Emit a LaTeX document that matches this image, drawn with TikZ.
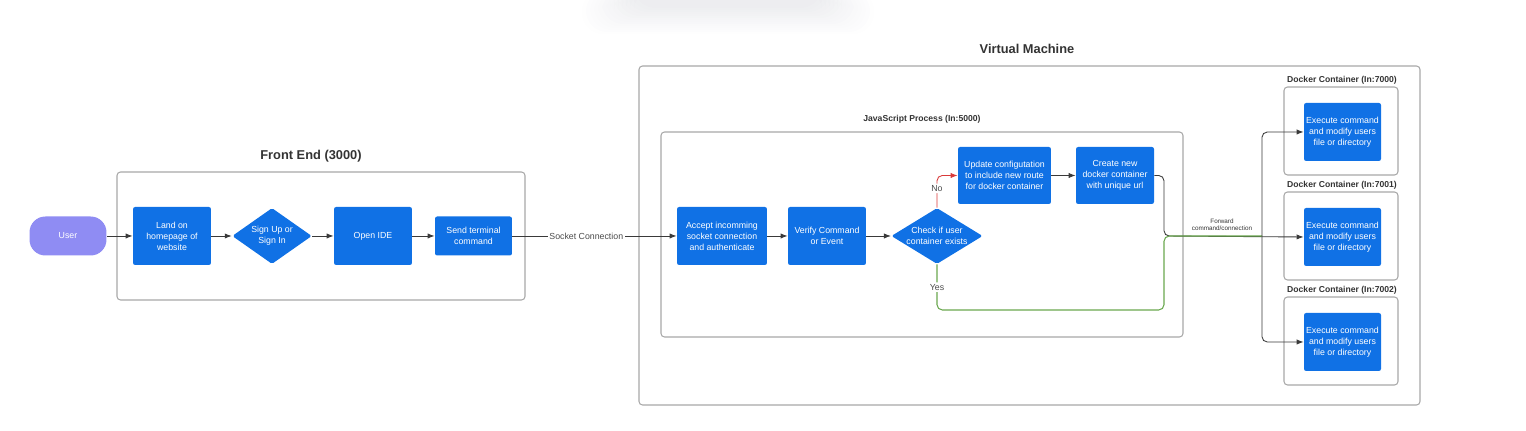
\documentclass[tikz,border=0pt]{standalone}
\usepackage{fontspec}
\setmainfont{Liberation Sans}
\usetikzlibrary{shapes.geometric,arrows.meta}

\definecolor{blu}{HTML}{1071E5}
\definecolor{usr}{HTML}{8F8CF3}
\definecolor{grn}{HTML}{6AA84F}
\definecolor{rd}{HTML}{D93A3A}
\definecolor{frm}{HTML}{A8A8A8}
\definecolor{lin}{HTML}{3A3A3A}
\definecolor{shd}{HTML}{5A5F78}

\tikzset{
  blk/.style={fill=blu, rounded corners=1.2pt, text=white, align=center, inner sep=0pt,
    font=\fontsize{5}{6.2}\selectfont},
  dia/.style={blk, diamond, rounded corners=1pt},
  frame/.style={draw=frm, line width=0.6pt, rounded corners=2pt},
  ttl/.style={font=\bfseries\fontsize{7.3}{8}\selectfont, text=black!80},
  sttl/.style={font=\bfseries\fontsize{4.9}{6}\selectfont, text=black!80},
  arr/.style={draw=lin, line width=0.5pt, -{Latex[length=4pt,width=3pt]}},
  lbl/.style={font=\fontsize{5}{6}\selectfont, text=black!70, fill=white, inner sep=1pt},
}

\begin{document}
\begin{tikzpicture}[x=0.02cm,y=-0.02cm]
\useasboundingbox (0,0) rectangle (1526,431);
% shadow of the toolbar at the top
\foreach \k in {0,...,13}
  \fill[shd, opacity=0.006, rounded corners=12pt] ({582+\k*4},-10) rectangle ({874-\k*4},{34-\k*2});

% frames
\draw[frame] (117,172) rectangle (525,300);
\node[ttl] (FE) at (311,156) {Front End (3000)};
\draw[frame] (639,66) rectangle (1420,405);
\node[ttl] (VM) at (1027,49) {Virtual Machine};
\draw[frame] (661,132) rectangle (1183,337);
\node[sttl] (JS) at (922,119) {JavaScript Process (In:5000)};

% front end
\node[blk, fill=usr, minimum width=1.54cm, minimum height=0.78cm, rounded corners=9pt] (US) at (68,236) {User};
\node[blk, minimum width=1.56cm, minimum height=1.16cm] (LA) at (172,236) {Land on\\homepage of\\website};
\node[dia, aspect=2, minimum width=1.48cm, minimum height=1.12cm] (SI) at (272,236) {Sign Up or\\Sign In};
\node[blk, minimum width=1.56cm, minimum height=1.16cm] (OP) at (373,236) {Open IDE};
\node[blk, minimum width=1.54cm, minimum height=0.78cm] (SE) at (473.5,236) {Send terminal\\command};
\draw[arr] (US)--(LA);
\draw[arr] (LA)--(SI);
\draw[arr] (SI)--(OP);
\draw[arr] (OP)--(SE);

% javascript process
\node[blk, minimum width=1.8cm, minimum height=1.16cm] (AC) at (722,236) {Accept incomming\\socket connection\\and authenticate};
\node[blk, minimum width=1.56cm, minimum height=1.16cm] (VE) at (827,236) {Verify Command\\or Event};
\node[dia, aspect=1.75, minimum width=1.76cm, minimum height=1.12cm] (CH) at (937,236) {Check if user\\container exists};
\node[blk, minimum width=1.86cm, minimum height=1.14cm] (UP) at (1004.5,175.5) {Update configutation\\to include new route\\for docker container};
\node[blk, minimum width=1.56cm, minimum height=1.14cm] (CR) at (1115,175.5) {Create new\\docker container\\with unique url};
\draw[arr] (SE)-- node[lbl, pos=0.45] {Socket Connection} (AC);
\draw[arr] (AC)--(VE);
\draw[arr] (VE)--(CH);
\draw[arr, draw=rd, rounded corners=3pt] (CH.north) |- node[lbl, pos=0.3] {No} (UP.west);
\draw[arr] (UP)--(CR);

% docker containers
\foreach \i/\ty in {0/87,1/192,2/297} {
  \draw[frame] (1284,\ty) rectangle (1398,{\ty+88});
  \node[sttl] (D\i) at (1342,{\ty-7}) {Docker Container (In:700\i)};
  \node[blk, minimum width=1.54cm, minimum height=1.16cm] (E\i) at (1342.5,{\ty+45}) {Execute command\\and modify users\\file or directory};
}

\coordinate (M) at (1164,236);
\coordinate (J) at (1262,236);
\draw[arr, rounded corners=3pt] (CR.east) -| (M) -- (E1.west);
\draw[draw=grn, line width=0.6pt, rounded corners=3pt] (CH.south) |- node[lbl, pos=0.25] {Yes} (1164,310) -- (M) -- (J);
\draw[arr, rounded corners=3pt] (J) |- (E0.west);
\draw[arr, rounded corners=3pt] (J) |- (E2.west);
\node[font=\fontsize{3.6}{4.3}\selectfont, align=center, text=black!80, inner sep=1pt, above] (FW) at (1222,233) {Forward\\command/connection};
\end{tikzpicture}
\end{document}
